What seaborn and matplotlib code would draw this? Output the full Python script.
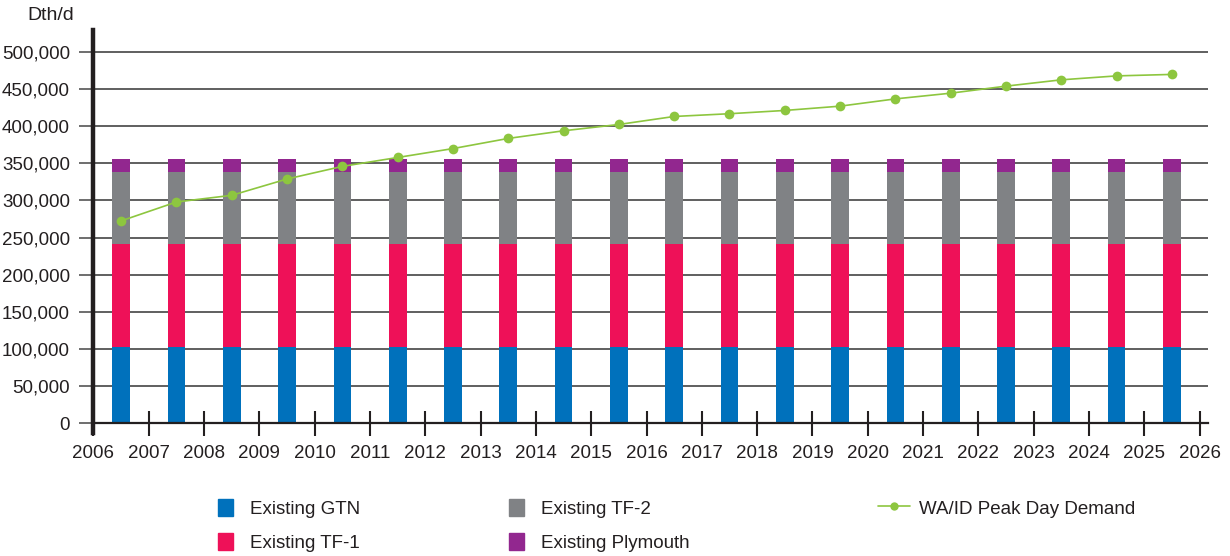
import numpy as np
import pandas as pd
import matplotlib
matplotlib.use("Agg")
import matplotlib.pyplot as plt
import matplotlib.ticker as mticker
from matplotlib.patches import Patch
from matplotlib.lines import Line2D
import seaborn as sns

# Datos
anios = list(range(2006, 2026))
gtn = [102000] * 20
tf1 = [139000] * 20
tf2 = [97000] * 20
plymouth = [18000] * 20
demanda = [272500, 298000, 307000, 329000, 346000, 358000, 370000, 383700, 394000, 402500,
           413300, 417000, 421400, 427200, 437000, 444700, 454200, 462700, 468000, 470000]
etiquetas_x = [str(a) for a in range(2006, 2027)]

col_gtn = "#0071BC"
col_tf1 = "#EE1158"
col_tf2 = "#808285"
col_ply = "#92278F"
col_dem = "#8DC63F"
texto = "#231F20"

sns.set_style("white")
plt.rcParams["font.family"] = ["Liberation Sans", "DejaVu Sans"]

df = pd.DataFrame({"anio": anios, "gtn": gtn, "tf1": tf1, "tf2": tf2,
                   "plymouth": plymouth, "demanda": demanda})
df["x"] = df["anio"] + 0.5
df["c1"] = df["gtn"]
df["c2"] = df["c1"] + df["tf1"]
df["c3"] = df["c2"] + df["tf2"]
df["c4"] = df["c3"] + df["plymouth"]

fig = plt.figure(figsize=(12.3, 5.56), dpi=100)
ax = fig.add_axes([0.076, 0.2212, 0.906, 0.725])

# Lineas de la cuadricula
for v in range(50000, 550000, 50000):
    ax.axhline(v, color="#444444", lw=1.2, zorder=0)

# Barras apiladas (de la mas alta a la mas baja)
for col, color in [("c4", col_ply), ("c3", col_tf2), ("c2", col_tf1), ("c1", col_gtn)]:
    sns.barplot(data=df, x="x", y=col, native_scale=True, width=0.32,
                color=color, saturation=1, linewidth=0, ax=ax, zorder=2)

sns.lineplot(data=df, x="x", y="demanda", color=col_dem, lw=1.2, marker="o",
             markersize=7, markeredgewidth=0, ax=ax, zorder=3)

ax.set_xlim(2006, 2026.15)
ax.set_ylim(-13500, 530000)
ax.set_xticks(range(2006, 2027))
ax.set_xticklabels(etiquetas_x)
ax.set_yticks(range(0, 550000, 50000))
ax.yaxis.set_major_formatter(mticker.FuncFormatter(lambda v, p: f"{int(v):,}"))
ax.set_xlabel("")
ax.set_ylabel("")

for s in ["top", "right"]:
    ax.spines[s].set_visible(False)
ax.spines["left"].set_linewidth(3.2)
ax.spines["left"].set_color(texto)
ax.spines["bottom"].set_position(("data", 0))
ax.spines["bottom"].set_linewidth(1.6)
ax.spines["bottom"].set_color(texto)
ax.spines["bottom"].set_zorder(4)

ax.tick_params(axis="x", direction="inout", length=18, width=1.5, color=texto,
               labelsize=13.5, labelcolor=texto, pad=7, bottom=True)
ax.tick_params(axis="y", direction="out", length=10, width=1.2, color="#555555",
               labelsize=13.5, labelcolor=texto, pad=7, left=True)

fig.text(0.022, 0.972, "Dth/d", fontsize=14, color=texto, va="center", ha="left")

# Leyenda en tres columnas
leg_kw = dict(loc="upper left", frameon=False, fontsize=13.5, labelcolor=texto,
              borderaxespad=0, borderpad=0, labelspacing=0.85, handletextpad=0.9)
h1 = [Patch(color=col_gtn), Patch(color=col_tf1)]
fig.legend(h1, ["Existing GTN", "Existing TF-1"], bbox_to_anchor=(0.177, 0.103),
           handlelength=0.8, handleheight=1.0, **leg_kw)
h2 = [Patch(color=col_tf2), Patch(color=col_ply)]
fig.legend(h2, ["Existing TF-2", "Existing Plymouth"], bbox_to_anchor=(0.414, 0.103),
           handlelength=0.8, handleheight=1.0, **leg_kw)
h3 = [Line2D([], [], color=col_dem, lw=1.2, marker="o", markersize=6, markeredgewidth=0)]
fig.legend(h3, ["WA/ID Peak Day Demand"], bbox_to_anchor=(0.714, 0.103),
           handlelength=1.7, handleheight=1.0, **{**leg_kw, "handletextpad": 0.5})

fig.savefig("out.png", dpi=100)
